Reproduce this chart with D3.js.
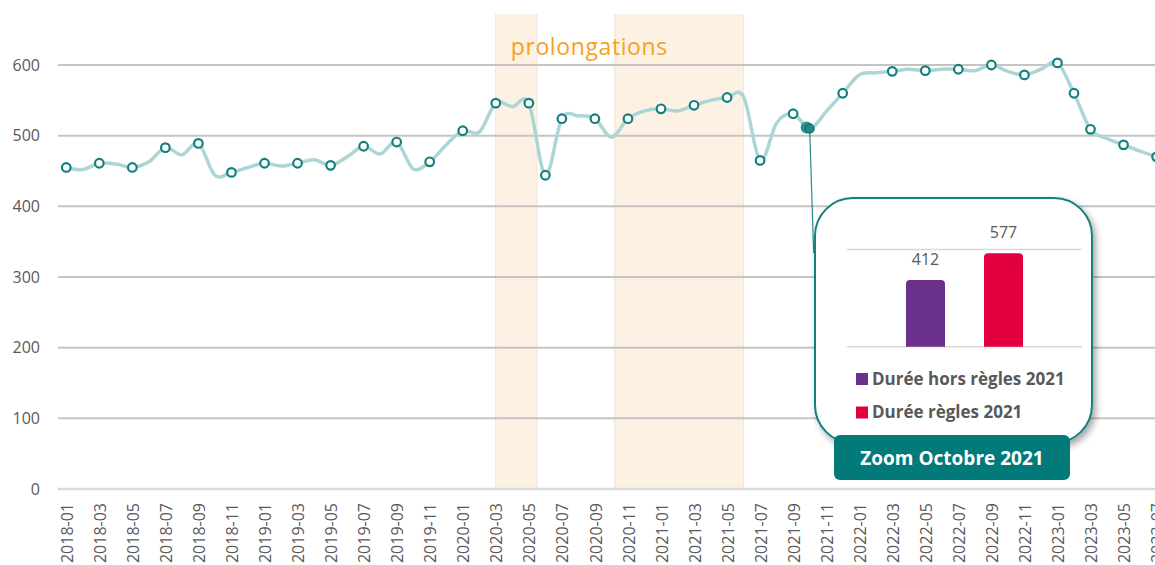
<!DOCTYPE html>
<html lang="fr">

<head>
    <meta charset="UTF-8">
    <title>Durées mensuelles - prolongations</title>
    <style>
        body {
            margin: 0;
            background: #fff;
        }
        svg {
            display: block;
            font-family: 'Open Sans', sans-serif;
        }
    </style>
</head>

<body>
<script src="https://cdn.jsdelivr.net/npm/d3@7"></script>
<script>
    // séries mensuelles
    const months = [
        '2018-01', '2018-02', '2018-03', '2018-04', '2018-05', '2018-06', '2018-07', '2018-08', '2018-09', '2018-10', '2018-11', '2018-12',
        '2019-01', '2019-02', '2019-03', '2019-04', '2019-05', '2019-06', '2019-07', '2019-08', '2019-09', '2019-10', '2019-11', '2019-12',
        '2020-01', '2020-02', '2020-03', '2020-04', '2020-05', '2020-06', '2020-07', '2020-08', '2020-09', '2020-10', '2020-11', '2020-12',
        '2021-01', '2021-02', '2021-03', '2021-04', '2021-05', '2021-06', '2021-07', '2021-08', '2021-09', '2021-10', '2021-11', '2021-12',
        '2022-01', '2022-02', '2022-03', '2022-04', '2022-05', '2022-06', '2022-07', '2022-08', '2022-09', '2022-10', '2022-11', '2022-12',
        '2023-01', '2023-02', '2023-03', '2023-04', '2023-05', '2023-06', '2023-07'
    ]
    const values = [
        455, 452, 461, 460, 455, 463, 483, 473, 489, 444, 448, 455,
        461, 457, 461, 466, 458, 470, 485, 474, 491, 453, 463, 487,
        507, 505, 546, 541, 546, 444, 524, 528, 524, 498, 524, 535,
        538, 535, 543, 550, 554, 555, 465, 518, 531, 510, 534, 560,
        586, 589, 591, 594, 592, 594, 594, 592, 600, 591, 586, 594,
        603, 560, 509, 496, 487, 478, 470
    ]
    const markerMonths = [
        '2018-01', '2018-03', '2018-05', '2018-07', '2018-09', '2018-11',
        '2019-01', '2019-03', '2019-05', '2019-07', '2019-09', '2019-11',
        '2020-01', '2020-03', '2020-05', '2020-06', '2020-07', '2020-09', '2020-11',
        '2021-01', '2021-03', '2021-05', '2021-07', '2021-09', '2021-12',
        '2022-03', '2022-05', '2022-07', '2022-09', '2022-11',
        '2023-01', '2023-02', '2023-03', '2023-05', '2023-07'
    ]
    const highlightMonth = '2021-10'
    const yTicks = [0, 100, 200, 300, 400, 500, 600]

    // périodes de prolongations (en mois, avec fraction de mois)
    const periods = [
        { start: '2020-03', startPad: 0, end: '2020-05', endPad: 0.5 },
        { start: '2020-10', startPad: 0.2, end: '2021-06', endPad: 0 }
    ]
    const periodLabel = 'prolongations'

    // zoom octobre 2021
    const zoomCategories = ['Durée hors règles 2021', 'Durée règles 2021']
    const zoomValues = [412, 577]
    const zoomColors = ['#6b318a', '#e3003f']
    const zoomTicks = [0, 600]
    const zoomTitle = 'Zoom Octobre 2021'

    const width = 1155
    const height = 565
    const teal = '#137f7f'
    const textGray = '#595959'

    const plotLeft = 58
    const plotTop = 14
    const step = 16.52

    const x = d3.scaleLinear()
        .domain([-0.5, months.length - 0.5])
        .range([plotLeft, plotLeft + step * months.length])
    const y = d3.scaleLinear()
        .domain([0, 600])
        .range([489, 65])

    const svg = d3.select('body')
        .append('svg')
        .attr('width', width)
        .attr('height', height)

    const defs = svg.append('defs')
    defs.append('filter')
        .attr('id', 'shadow')
        .attr('x', '-10%').attr('y', '-10%')
        .attr('width', '130%').attr('height', '130%')
        .append('feDropShadow')
        .attr('dx', 3).attr('dy', 4)
        .attr('stdDeviation', 3.5)
        .attr('flood-color', '#000')
        .attr('flood-opacity', 0.35)

    drawPeriods()
    drawGrid()
    drawAxes()
    drawLine()
    drawZoom()

    function drawPeriods() {
        const g = svg.append('g').attr('class', 'periods')
        periods.forEach(p => {
            const x0 = x(months.indexOf(p.start) + p.startPad)
            const x1 = x(months.indexOf(p.end) + p.endPad)
            g.append('rect')
                .attr('x', x0)
                .attr('y', plotTop)
                .attr('width', x1 - x0)
                .attr('height', y(0) - plotTop)
                .attr('fill', '#fdf1e3')
            g.selectAll(null)
                .data([x0, x1])
                .enter()
                .append('line')
                .attr('x1', d => d).attr('x2', d => d)
                .attr('y1', plotTop).attr('y2', y(0))
                .attr('stroke', '#ece4da')
                .attr('stroke-width', 1)
        })

        g.append('text')
            .attr('x', x(months.indexOf(periods[0].start)) + 15)
            .attr('y', 55)
            .attr('fill', '#f7a11f')
            .attr('font-size', 23)
            .attr('letter-spacing', 0.6)
            .text(periodLabel)
    }

    function drawGrid() {
        svg.append('g')
            .attr('class', 'grid')
            .selectAll('line')
            .data(yTicks)
            .enter()
            .append('line')
            .attr('x1', plotLeft)
            .attr('x2', width)
            .attr('y1', d => y(d))
            .attr('y2', d => y(d))
            .attr('stroke', d => d === 0 ? '#d9d9d9' : '#c4c4c4')
            .attr('stroke-width', d => d === 0 ? 2.5 : 2)
    }

    function drawAxes() {
        svg.append('g')
            .attr('class', 'y-labels')
            .selectAll('text')
            .data(yTicks)
            .enter()
            .append('text')
            .attr('x', 40)
            .attr('y', d => y(d))
            .attr('dy', '0.35em')
            .attr('text-anchor', 'end')
            .attr('fill', textGray)
            .attr('font-size', 16)
            .text(d => d)

        svg.append('g')
            .attr('class', 'x-labels')
            .selectAll('text')
            .data(months.filter((_, i) => i % 2 === 0))
            .enter()
            .append('text')
            .attr('transform', d => `translate(${ x(months.indexOf(d)) + 1 }, 503) rotate(-90)`)
            .attr('dy', '0.35em')
            .attr('text-anchor', 'end')
            .attr('fill', textGray)
            .attr('font-size', 16)
            .text(d => d)
    }

    function drawLine() {
        const line = d3.line()
            .x((_, i) => x(i))
            .y(d => y(d))
            .curve(d3.curveCardinal.tension(0))

        svg.append('path')
            .datum(values)
            .attr('d', line)
            .attr('fill', 'none')
            .attr('stroke', '#acd6d5')
            .attr('stroke-width', 3.5)

        svg.append('g')
            .attr('class', 'markers')
            .selectAll('circle')
            .data(markerMonths.map(m => months.indexOf(m)))
            .enter()
            .append('circle')
            .attr('cx', i => x(i))
            .attr('cy', i => y(values[i]))
            .attr('r', 4.3)
            .attr('fill', '#fff')
            .attr('stroke', teal)
            .attr('stroke-width', 2.2)

        // point mis en avant + trait vers l'encart
        const hi = months.indexOf(highlightMonth)
        const hx = x(hi)
        const hy = y(values[hi])
        svg.append('line')
            .attr('x1', hx).attr('y1', hy)
            .attr('x2', hx + 4).attr('y2', 253)
            .attr('stroke', '#2a8a8a')
            .attr('stroke-width', 1.2)
        svg.append('circle')
            .attr('cx', hx - 3).attr('cy', hy - 1)
            .attr('r', 6)
            .attr('fill', '#2e8f8d')
        svg.append('circle')
            .attr('cx', hx).attr('cy', hy)
            .attr('r', 4.5)
            .attr('fill', '#248a88')
            .attr('stroke', '#0f6f6f')
            .attr('stroke-width', 1.2)
    }

    function drawZoom() {
        const g = svg.append('g').attr('class', 'zoom')

        g.append('rect')
            .attr('x', 815)
            .attr('y', 198)
            .attr('width', 277)
            .attr('height', 245)
            .attr('rx', 38)
            .attr('fill', '#fff')
            .attr('stroke', teal)
            .attr('stroke-width', 2)
            .attr('filter', 'url(#shadow)')

        const xb = d3.scaleBand()
            .domain(zoomCategories)
            .range([847, 1082])
            .paddingInner(0.5)
            .paddingOuter(0.756)
        const yb = d3.scaleLinear()
            .domain([0, 600])
            .range([346.7, 249.6])

        g.selectAll('.zgrid')
            .data(zoomTicks)
            .enter()
            .append('line')
            .attr('class', 'zgrid')
            .attr('x1', 847).attr('x2', 1082)
            .attr('y1', d => yb(d)).attr('y2', d => yb(d))
            .attr('stroke', '#d9d9d9')
            .attr('stroke-width', 1.5)

        const r = 4
        g.selectAll('.zbar')
            .data(zoomValues)
            .enter()
            .append('path')
            .attr('class', 'zbar')
            .attr('fill', (_, i) => zoomColors[i])
            .attr('d', (d, i) => {
                const x0 = xb(zoomCategories[i])
                const w = xb.bandwidth()
                const top = yb(d)
                const base = yb(0)
                return `M${ x0 },${ base }V${ top + r }Q${ x0 },${ top } ${ x0 + r },${ top }` +
                    `H${ x0 + w - r }Q${ x0 + w },${ top } ${ x0 + w },${ top + r }V${ base }Z`
            })

        g.selectAll('.zlabel')
            .data(zoomValues)
            .enter()
            .append('text')
            .attr('class', 'zlabel')
            .attr('x', (_, i) => xb(zoomCategories[i]) + xb.bandwidth() / 2)
            .attr('y', d => yb(d) - 15)
            .attr('text-anchor', 'middle')
            .attr('fill', textGray)
            .attr('font-size', 16)
            .text(d => d)

        const legend = g.selectAll('.zlegend')
            .data(zoomCategories)
            .enter()
            .append('g')
            .attr('class', 'zlegend')
            .attr('transform', (_, i) => `translate(856, ${ 379 + i * 33.5 })`)
        legend.append('rect')
            .attr('x', 0).attr('y', -6)
            .attr('width', 12).attr('height', 12)
            .attr('fill', (_, i) => zoomColors[i])
        legend.append('text')
            .attr('x', 16)
            .attr('dy', '0.35em')
            .attr('fill', textGray)
            .attr('font-size', 17)
            .attr('font-weight', 'bold')
            .text(d => d)

        g.append('rect')
            .attr('x', 834)
            .attr('y', 435)
            .attr('width', 236)
            .attr('height', 45)
            .attr('rx', 6)
            .attr('fill', '#037a7a')
        g.append('text')
            .attr('x', 952)
            .attr('y', 458)
            .attr('dy', '0.35em')
            .attr('text-anchor', 'middle')
            .attr('fill', '#fff')
            .attr('font-size', 19)
            .attr('font-weight', 'bold')
            .text(zoomTitle)
    }
</script>

</body>

</html>
